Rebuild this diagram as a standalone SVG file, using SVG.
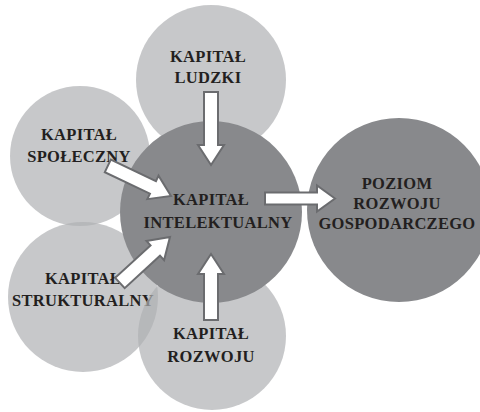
<svg xmlns="http://www.w3.org/2000/svg" width="480" height="412" viewBox="0 0 480 412">
<style>
.lt{fill:#afb0b3;fill-opacity:0.7}
.dk{fill:#88898c}
.t{font-family:"Liberation Serif","Times New Roman",serif;font-weight:bold;font-size:16.5px;letter-spacing:0.3px;fill:#231f20;text-anchor:middle}
.arr{fill:#ffffff;stroke:#6b6c6f;stroke-width:2;stroke-linejoin:miter}
</style>
<rect width="480" height="412" fill="#ffffff"/>
<g id="ludzki"><circle class="lt" cx="211" cy="80" r="75"/><text class="t" x="208" y="62">KAPITAŁ</text><text class="t" x="208" y="83">LUDZKI</text></g>
<g id="spoleczny"><circle class="lt" cx="80" cy="156" r="70"/><text class="t" x="79" y="140">KAPITAŁ</text><text class="t" x="79" y="162">SPOŁECZNY</text></g>
<g id="strukturalny"><circle class="lt" cx="83" cy="297" r="75"/><text class="t" x="83" y="284">KAPITAŁ</text><text class="t" x="83" y="306">STRUKTURALNY</text></g>
<g id="rozwoju"><circle class="lt" cx="212" cy="336" r="74"/><text class="t" x="211" y="339">KAPITAŁ</text><text class="t" x="211" y="362">ROZWOJU</text></g>
<g id="intelektualny"><circle class="dk" cx="211" cy="212" r="91"/><text class="t" x="211" y="205">KAPITAŁ</text><text class="t" x="218" y="228">INTELEKTUALNY</text></g>
<g id="poziom"><circle class="dk" cx="399" cy="210" r="92"/><text class="t" x="397" y="189">POZIOM</text><text class="t" x="397" y="209">ROZWOJU</text><text class="t" x="397" y="229">GOSPODARCZEGO</text></g>
<g id="connectors">
<path class="arr" transform="translate(211,165) rotate(90)" d="M0,0 L-20,-13 L-20,-7 L-73,-7 L-73,7 L-20,7 L-20,13 Z"/>
<path class="arr" transform="translate(211,254) rotate(-90)" d="M0,0 L-20,-13 L-20,-7 L-66,-7 L-66,7 L-20,7 L-20,13 Z"/>
<path class="arr" transform="translate(335,198.5)" d="M0,0 L-18,-13 L-18,-6 L-70,-6 L-70,6 L-18,6 L-18,13 Z"/>
<path class="arr" transform="translate(171,196) rotate(25.5)" d="M0,0 L-20,-13 L-20,-7 L-70,-7 L-70,7 L-20,7 L-20,13 Z"/>
<path class="arr" transform="translate(170,237) rotate(-42.6)" d="M0,0 L-20,-13 L-20,-7 L-68,-7 L-68,7 L-20,7 L-20,13 Z"/>
</g>
</svg>
